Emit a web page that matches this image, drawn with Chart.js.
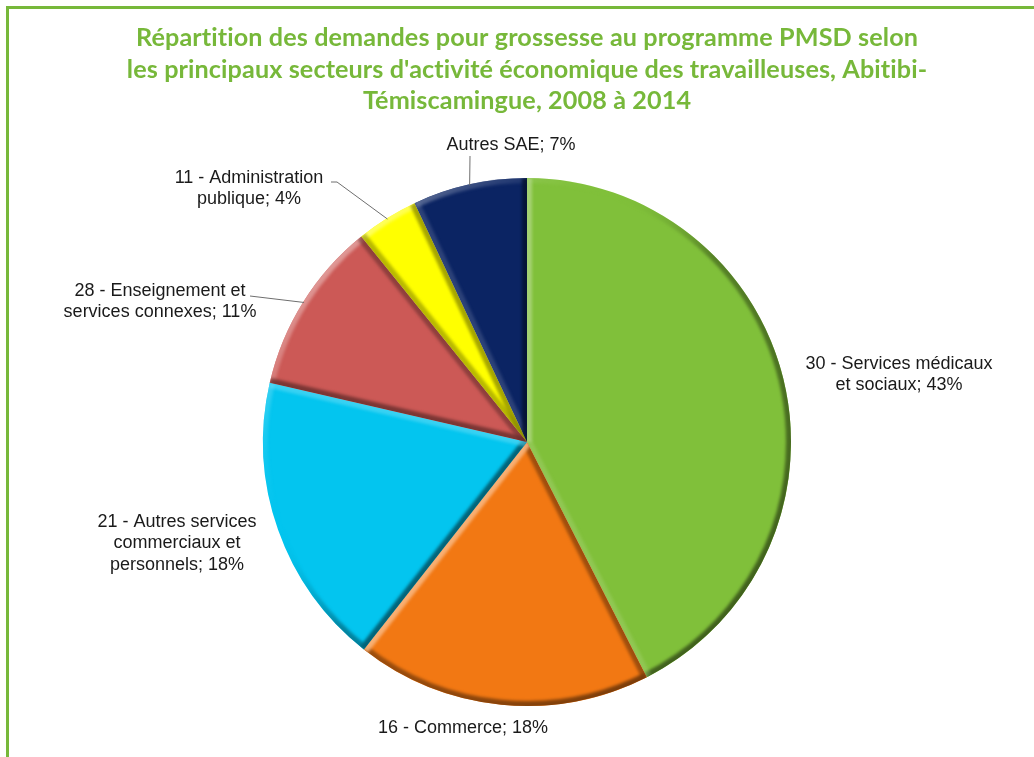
<!DOCTYPE html>
<html>
<head>
<meta charset="utf-8">
<script src="https://cdn.jsdelivr.net/npm/chart.js@4"></script>
<style>
html,body{margin:0;padding:0;background:#fff;overflow:hidden}
#wrap{position:relative;width:1034px;height:757px}
#frame{position:absolute;left:6px;top:6px;width:1100px;height:800px;border:3px solid #77B83A;box-sizing:border-box;pointer-events:none}
canvas{position:absolute;left:0;top:0}
</style>
</head>
<body>
<div id="wrap">
<canvas id="c" width="1034" height="757"></canvas>
<div id="frame"></div>
</div>
<script>
// ---- data ----
const titleLines = [
  "Répartition des demandes pour grossesse au programme PMSD selon",
  "les principaux secteurs d'activité économique des travailleuses, Abitibi-",
  "Témiscamingue, 2008 à 2014"
];
const categories = [
  "30 - Services médicaux et sociaux",
  "16 - Commerce",
  "21 - Autres services commerciaux et personnels",
  "28 - Enseignement et services connexes",
  "11 - Administration publique",
  "Autres SAE"
];
// shares
const shares = [42.5, 18.1, 18.0, 10.6, 3.8, 7.0];
// percentages printed on the labels
const shownPct = [43, 18, 18, 11, 4, 7];
// line breaks of each label
const labelParts = [
  ["30 - Services médicaux", "et sociaux"],
  ["16 - Commerce"],
  ["21 - Autres services", "commerciaux et", "personnels"],
  ["28 - Enseignement et", "services connexes"],
  ["11 - Administration", "publique"],
  ["Autres SAE"]
];
const colors = ["#80C03A", "#F27813", "#03C5EF", "#CC5956", "#FFFF00", "#0B2463"];

// ---- layout / style (positions of label texts and leader starts) ----
const labelPos = [
  {x: 899, y: 364},
  {x: 463, y: 728},
  {x: 177, y: 522},
  {x: 160, y: 291},
  {x: 249, y: 178},
  {x: 511, y: 145}
];
const leaderStart = [null, null, null,
  [{x: 250, y: 296}],
  [{x: 331, y: 182}, {x: 337, y: 182}],
  [{x: 470, y: 156}]
];

function hexToRgb(h){h=h.replace('#','');return [parseInt(h.substr(0,2),16),parseInt(h.substr(2,2),16),parseInt(h.substr(4,2),16)];}
function mix(a,b,t){return a.map((v,i)=>Math.round(v+(b[i]-v)*t));}
function rgba(c,a){return 'rgba('+c[0]+','+c[1]+','+c[2]+','+a+')';}

const bevelPlugin = {
  id: 'bevel',
  afterDatasetsDraw(chart){
    const ctx = chart.ctx;
    const meta = chart.getDatasetMeta(0);
    meta.data.forEach((arc, i) => {
      const p = arc.getProps(['x','y','startAngle','endAngle','outerRadius'], true);
      const {x, y, startAngle: s, endAngle: e, outerRadius: R} = p;
      const base = hexToRgb(colors[i]);
      const dark = mix(base, [0,0,0], 0.5);
      const light = mix(base, [255,255,255], 0.45);
      ctx.save();
      const path = new Path2D();
      path.moveTo(x, y); path.arc(x, y, R, s, e); path.closePath();
      ctx.clip(path);
      ctx.filter = 'blur(1.6px)';
      ctx.lineWidth = 10;
      const g = ctx.createLinearGradient(x - R*0.71, y - R*0.71, x + R*0.71, y + R*0.71);
      g.addColorStop(0, rgba(light, 0.85));
      g.addColorStop(0.28, rgba(base, 0));
      g.addColorStop(0.5, rgba(dark, 0.65));
      g.addColorStop(1, rgba(dark, 1));
      ctx.strokeStyle = g;
      ctx.beginPath(); ctx.arc(x, y, R, s, e); ctx.stroke();
      [[s, s - Math.PI/2], [e, e + Math.PI/2]].forEach(([a, n]) => {
        const dot = (Math.cos(n) + Math.sin(n)) / Math.SQRT2;
        ctx.strokeStyle = dot > -0.25 ? rgba(dark, 0.55 + 0.45*Math.max(dot,0)) : rgba(light, 0.9*(-dot));
        ctx.beginPath(); ctx.moveTo(x, y); ctx.lineTo(x + R*Math.cos(a), y + R*Math.sin(a)); ctx.stroke();
      });
      ctx.restore();
    });
  }
};

const textPlugin = {
  id: 'texts',
  afterDraw(chart){
    const ctx = chart.ctx;
    ctx.save();
    // title
    ctx.fillStyle = '#77B83A';
    ctx.font = 'bold 25.2px Lato';
    if ('letterSpacing' in ctx) ctx.letterSpacing = '0.1px';
    ctx.textAlign = 'center';
    ctx.textBaseline = 'middle';
    titleLines.forEach((t, k) => ctx.fillText(t, 527, 38 + k*31.5));
    if ('letterSpacing' in ctx) ctx.letterSpacing = '0px';
    // labels
    const meta = chart.getDatasetMeta(0);
    ctx.font = '18px "Liberation Sans", Arial, sans-serif';
    ctx.fillStyle = '#1a1a1a';
    labelParts.forEach((parts, i) => {
      const lines = parts.slice();
      lines[lines.length - 1] = lines[lines.length - 1] + '; ' + shownPct[i] + '%';
      lines.forEach((t, k) => ctx.fillText(t, labelPos[i].x, labelPos[i].y + k*21.5));
      if (leaderStart[i]) {
        const arc = meta.data[i];
        const p = arc.getProps(['x','y','startAngle','endAngle','outerRadius'], true);
        const mid = (p.startAngle + p.endAngle) / 2;
        const ex = p.x + (p.outerRadius - 1) * Math.cos(mid);
        const ey = p.y + (p.outerRadius - 1) * Math.sin(mid);
        ctx.strokeStyle = '#6e6e6e';
        ctx.lineWidth = 1;
        ctx.beginPath();
        leaderStart[i].forEach((pt, k) => k === 0 ? ctx.moveTo(pt.x, pt.y) : ctx.lineTo(pt.x, pt.y));
        ctx.lineTo(ex, ey);
        ctx.stroke();
      }
    });
    ctx.restore();
  }
};

new Chart(document.getElementById('c'), {
  type: 'pie',
  data: {
    labels: categories,
    datasets: [{
      data: shares,
      backgroundColor: colors,
      borderWidth: 0,
      hoverOffset: 0
    }]
  },
  options: {
    responsive: false,
    animation: false,
    events: [],
    layout: {padding: {top: 178, bottom: 51, left: 263, right: 243}},
    plugins: {legend: {display: false}, tooltip: {enabled: false}, title: {display: false}}
  },
  plugins: [bevelPlugin, textPlugin]
});
</script>
</body>
</html>
